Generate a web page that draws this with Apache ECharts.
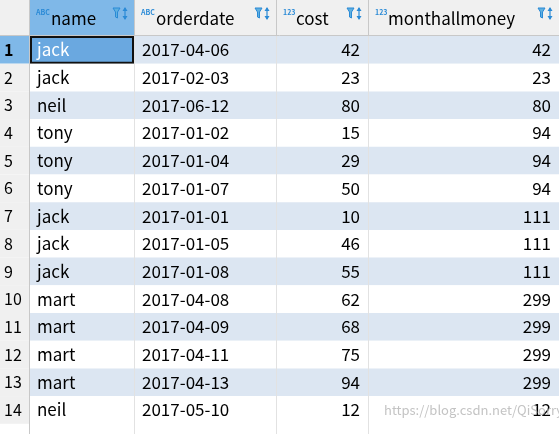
<!DOCTYPE html><html><head><meta charset="utf-8">
<script src="https://cdn.jsdelivr.net/npm/echarts@6/dist/echarts.min.js"></script>
<style>html,body{margin:0;padding:0;background:#fff}#c{width:559px;height:434px}</style></head><body><div id="c"></div>
<script>
const columns = ['name','orderdate','cost','monthallmoney'];
const colTypes = ['ABC','ABC','123','123'];
const names = ['jack','jack','neil','tony','tony','tony','jack','jack','jack','mart','mart','mart','mart','neil'];
const orderdates = ['2017-04-06','2017-02-03','2017-06-12','2017-01-02','2017-01-04','2017-01-07','2017-01-01','2017-01-05','2017-01-08','2017-04-08','2017-04-09','2017-04-11','2017-04-13','2017-05-10'];
const costs = [42,23,80,15,29,50,10,46,55,62,68,75,94,12];
const monthallmoney = [42,23,80,94,94,94,111,111,111,299,299,299,299,12];

const colX = [0,30,135,277,369,560];
const headH = 36, rowH = 27.7;
const font = '"Noto Sans CJK SC","DejaVu Sans",sans-serif';
const els = [];
// header bg
els.push({type:'rect',shape:{x:0,y:0,width:559,height:headH},style:{fill:'#f0f0f0'}});
els.push({type:'rect',shape:{x:colX[1],y:0,width:colX[2]-colX[1],height:headH},style:{fill:'#7fb8e8'}});
for(let i=1;i<colX.length;i++) els.push({type:'line',shape:{x1:colX[i]-0.5,y1:0,x2:colX[i]-0.5,y2:headH},style:{stroke:'#c8c8c8',lineWidth:1}});
els.push({type:'line',shape:{x1:0,y1:headH-0.5,x2:559,y2:headH-0.5},style:{stroke:'#c8c8c8'}});
columns.forEach((c,i)=>{
  const x0=colX[i+1], x1=colX[i+2];
  els.push({type:'text',style:{x:x0+6,y:9,text:colTypes[i],fill:'#2a8ad6',font:'bold 7px '+font}});
  els.push({type:'text',style:{x:x0+(colTypes[i]==='ABC'?21:19),y:19,text:c,fill:'#000',font:'17px '+font,verticalAlign:'middle'}});
  // filter icon
  els.push({type:'polygon',shape:{points:[[x1-22,8],[x1-15,8],[x1-17.5,12],[x1-17.5,18],[x1-19.5,17],[x1-19.5,12]]},style:{fill:'#5fb0e0',stroke:'#2a8ad6',lineWidth:1}});
  els.push({type:'line',shape:{x1:x1-10,y1:8,x2:x1-10,y2:19},style:{stroke:'#2a8ad6',lineWidth:1.2}});
  els.push({type:'polygon',shape:{points:[[x1-12.5,16],[x1-7.5,16],[x1-10,20]]},style:{fill:'#2a8ad6'}});
  els.push({type:'polygon',shape:{points:[[x1-12.5,11],[x1-7.5,11],[x1-10,7]]},style:{fill:'#2a8ad6'}});
});
// rows
const rows = names.map((n,i)=>[n,orderdates[i],String(costs[i]),String(monthallmoney[i])]);
rows.forEach((r,i)=>{
  const y=headH+i*rowH;
  els.push({type:'rect',shape:{x:colX[1],y:y,width:559-colX[1],height:rowH},style:{fill:i%2===0?'#dce6f2':'#ffffff'}});
  els.push({type:'rect',shape:{x:0,y:y,width:colX[1],height:rowH},style:{fill:i===0?'#7fb8e8':'#f0f0f0'}});
  els.push({type:'text',style:{x:4,y:y+rowH/2,text:String(i+1),fill:'#000',font:(i===0?'bold ':'')+'16px '+font,verticalAlign:'middle'}});
  r.forEach((v,j)=>{
    const x0=colX[j+1], x1=colX[j+2];
    const right = j>=2;
    if(i===0&&j===0){
      els.push({type:'rect',shape:{x:x0+1,y:y+1,width:x1-x0-3,height:rowH-2},style:{fill:'#6aa8e0',stroke:'#111',lineWidth:2}});
    }
    els.push({type:'text',style:{x:right?x1-9:x0+7,y:y+rowH/2,text:v,fill:(i===0&&j===0)?'#fff':'#000',font:'17px '+font,align:right?'right':'left',verticalAlign:'middle'}});
  });
});
for(let i=1;i<colX.length;i++) els.push({type:'line',shape:{x1:colX[i]-0.5,y1:headH,x2:colX[i]-0.5,y2:434},style:{stroke:'#e2e2e2',lineWidth:1}});
els.push({type:'line',shape:{x1:colX[1]-0.5,y1:0,x2:colX[1]-0.5,y2:434},style:{stroke:'#c8c8c8',lineWidth:1}});
els.push({type:'text',style:{x:384,y:headH+13*rowH+rowH/2,text:'https://blog.csdn.net/QiSorry',fill:'rgba(180,180,180,0.8)',font:'13px '+font,verticalAlign:'middle'}});
const chart = echarts.init(document.getElementById('c'));
chart.setOption({animation:false,graphic:{elements:els}});
</script></body></html>
